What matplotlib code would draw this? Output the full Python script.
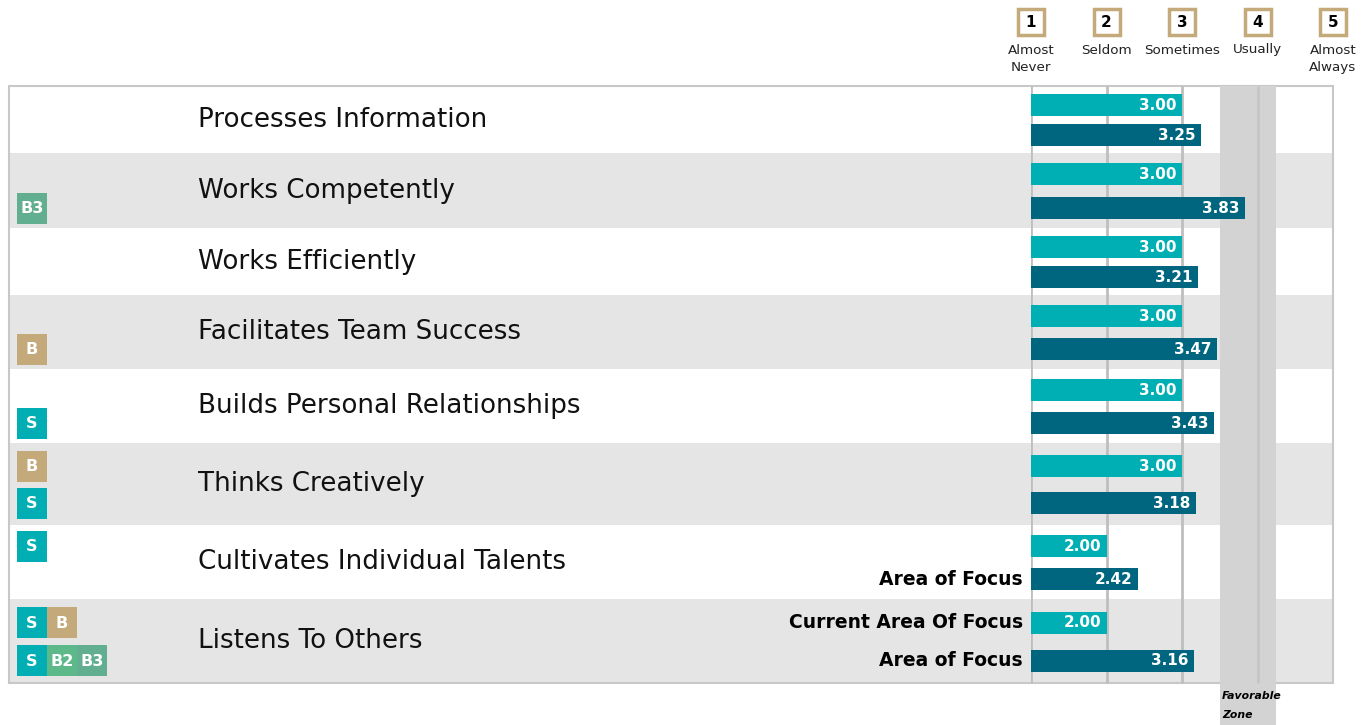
import matplotlib
matplotlib.use("Agg")
import matplotlib.pyplot as plt
from matplotlib.patches import Rectangle

# ---------------- data ----------------
competencies = ["Processes Information", "Works Competently", "Works Efficiently",
                "Facilitates Team Success", "Builds Personal Relationships",
                "Thinks Creatively", "Cultivates Individual Talents", "Listens To Others"]
current_scores = [3.00, 3.00, 3.00, 3.00, 3.00, 3.00, 2.00, 2.00]
other_scores = [3.25, 3.83, 3.21, 3.47, 3.43, 3.18, 2.42, 3.16]
badges_top = [[], [], [], [], [], ["B"], ["S"], ["S", "B"]]
badges_bottom = [[], ["B3"], [], ["B"], ["S"], ["S"], [], ["S", "B2", "B3"]]
focus_top = ["", "", "", "", "", "", "", "Current Area Of Focus"]
focus_bottom = ["", "", "", "", "", "", "Area of Focus", "Area of Focus"]
scale_levels = [1, 2, 3, 4, 5]
scale_labels = ["Almost\nNever", "Seldom", "Sometimes", "Usually", "Almost\nAlways"]
favorable_zone = (3.5, 4.25)

# ---------------- style ----------------
FONT = "DejaVu Sans"
plt.rcParams['font.family'] = [FONT]
C_CUR = "#00AFB3"
C_OTH = "#00657F"
C_STRIPE = "#E5E5E5"
C_BORDER = "#C8C8C8"
C_GRID = "#BEBEBE"
C_ZONE = "#D3D3D3"
C_TAN = "#C4A97A"
badge_colors = {"S": "#00AEB3", "B": "#C4A97A", "B2": "#5DB98A", "B3": "#62AE90"}

W, H = 1371, 725
fig = plt.figure(figsize=(W / 100, H / 100), dpi=100)

# background axes in pixel units
bg = fig.add_axes([0, 0, 1, 1])
bg.set_xlim(0, W)
bg.set_ylim(H, 0)
bg.axis("off")

TL, TR = 9, 1333          # table left / right
VL = 1031                 # value area left
row_edges = [86, 153, 228, 295, 369, 443, 525, 599, 683]
TT, TB = row_edges[0], row_edges[-1]

for i in range(len(competencies)):
    top, bot = row_edges[i], row_edges[i + 1]
    if i % 2 == 1:
        bg.add_patch(Rectangle((TL, top), TR - TL, bot - top, fc=C_STRIPE, ec="none", zorder=0))
bg.add_patch(Rectangle((TL, TT), TR - TL, TB - TT, fc="none", ec=C_BORDER, lw=1.5, zorder=5))

# bar axes: x in score units, y in pixel rows
ax = fig.add_axes([VL / W, 0, (TR - VL) / W, (H - TT) / H])
ax.set_xlim(1, 5)
ax.set_ylim(H, TT)
ax.axis("off")
ax.patch.set_visible(False)

ax.axvspan(*favorable_zone, color=C_ZONE, zorder=1, lw=0)
ax.vlines([1, 2, 3], TT, TB, color=C_GRID, lw=2, zorder=2)
ax.vlines([4], TT, TB, color="#C5C5C5", lw=2, zorder=2)

BAR_H = 22
for i, name in enumerate(competencies):
    top, bot = row_edges[i], row_edges[i + 1]
    h = bot - top
    yc = (top + bot) / 2
    y1 = top + 0.285 * h
    y2 = top + 0.735 * h
    bg.text(198, yc, name, fontsize=18.8, va="center", ha="left", color="#111111", zorder=6)
    for yy, v, col in ((y1, current_scores[i], C_CUR), (y2, other_scores[i], C_OTH)):
        ax.barh(yy, v - 1, left=1, height=BAR_H, color=col, zorder=3)
        ax.annotate(f"{v:.2f}", (v, yy), xytext=(-4, 0), textcoords="offset points",
                    ha="right", va="center", color="white", fontsize=11,
                    fontweight="bold", zorder=4)
    for yy, lab in ((y1, focus_top[i]), (y2, focus_bottom[i])):
        if lab:
            ax.annotate(lab, (1, yy), xytext=(-6, 0), textcoords="offset points",
                        ha="right", va="center", color="black", fontsize=13.5,
                        fontweight="bold", zorder=4, annotation_clip=False)
    for yy, blist in ((y1, badges_top[i]), (y2, badges_bottom[i])):
        for j, b in enumerate(blist):
            x0 = 17 + 30 * j
            bg.add_patch(Rectangle((x0, yy - 15.5), 30, 31, fc=badge_colors[b], ec="none", zorder=6))
            bg.text(x0 + 15, yy + 0.5, b, color="white", fontsize=11.5, fontweight="bold",
                    ha="center", va="center", zorder=7)

# header scale
for k, lab in zip(scale_levels, scale_labels):
    ax.plot(k, 22, marker="s", ms=18.5, mfc="white", mec=C_TAN, mew=2.5,
            clip_on=False, zorder=5)
    ax.text(k, 22.5, str(k), ha="center", va="center", fontsize=11, fontweight="bold",
            color="black", clip_on=False, zorder=6)
    ax.text(k, 43.5, lab, ha="center", va="top", fontsize=9.7, color="#222222",
            linespacing=1.45, clip_on=False)

# favorable zone label
for txt, yy in (("Favorable", 696), ("Zone", 715)):
    ax.annotate(txt, (favorable_zone[0], yy), xytext=(1.5, 0), textcoords="offset points",
                ha="left", va="center", fontsize=7.8, fontweight="bold", fontstyle="italic",
                color="black", annotation_clip=False)

fig.savefig("out.png", dpi=100)
